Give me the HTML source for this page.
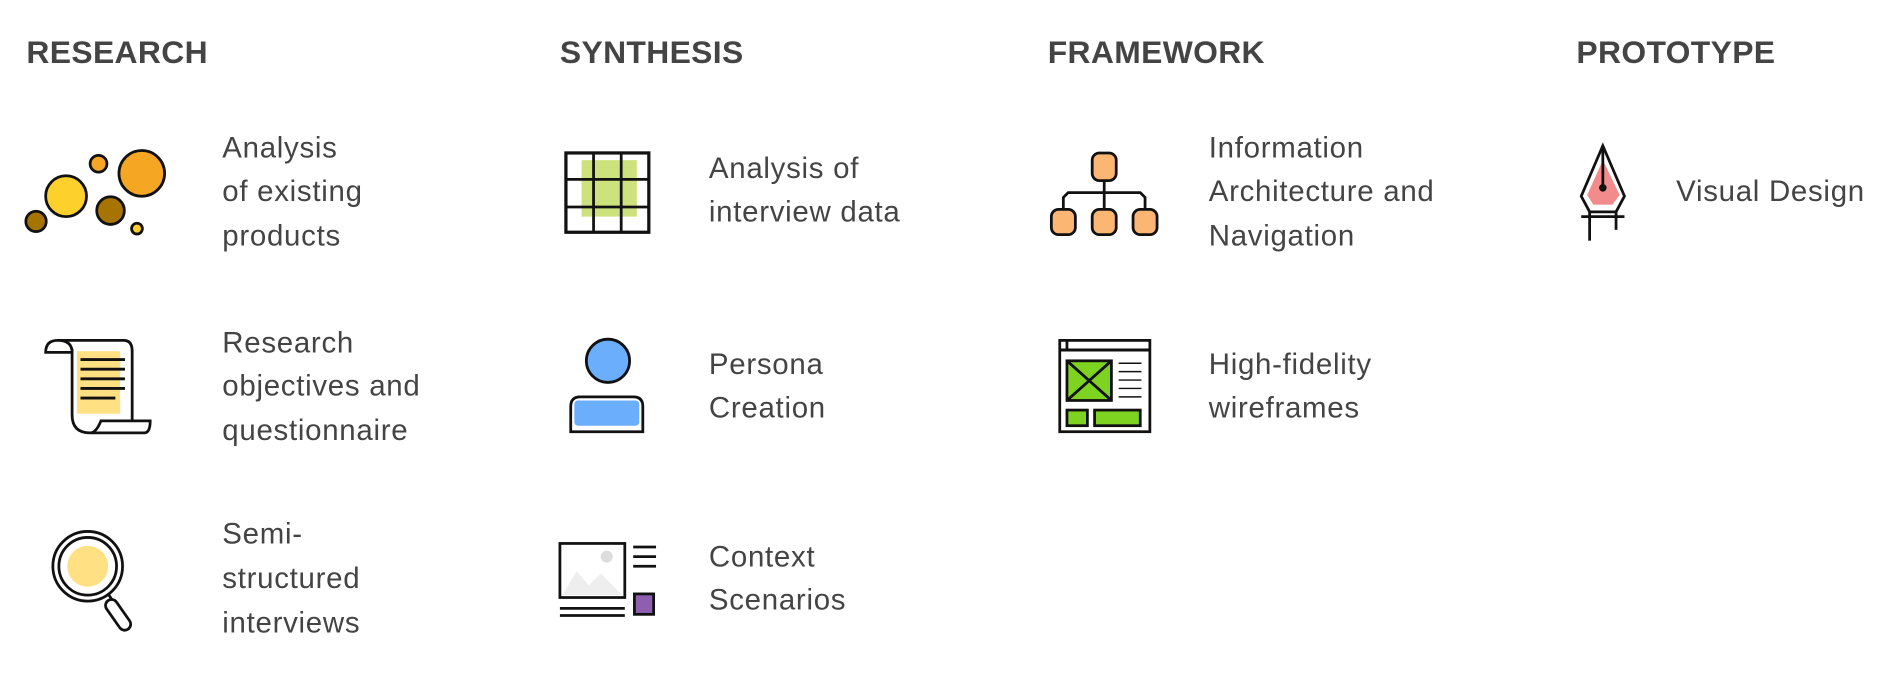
<!DOCTYPE html>
<html><head><meta charset="utf-8"><style>
html,body{margin:0;padding:0;background:#fff;width:1884px;height:700px;overflow:hidden}
svg{display:block}
.t{font-family:"Liberation Sans",sans-serif;font-weight:bold;font-size:26.5px;fill:#444;letter-spacing:0.3px}
.b{font-family:"Liberation Sans",sans-serif;font-size:24.5px;fill:#444;letter-spacing:0.6px}
</style></head><body>
<svg width="1884" height="700" viewBox="0 0 1568 582" xmlns="http://www.w3.org/2000/svg">
<g class="t">
<text x="22" y="52">RESEARCH</text>
<text x="466" y="52">SYNTHESIS</text>
<text x="872" y="52">FRAMEWORK</text>
<text x="1312" y="52">PROTOTYPE</text>
</g>
<g class="b">
<text x="185" y="131">Analysis</text><text x="185" y="167">of existing</text><text x="185" y="204">products</text>
<text x="185" y="293">Research</text><text x="185" y="329">objectives and</text><text x="185" y="366">questionnaire</text>
<text x="185" y="452">Semi-</text><text x="185" y="489">structured</text><text x="185" y="526">interviews</text>
<text x="590" y="148">Analysis of</text><text x="590" y="184">interview data</text>
<text x="590" y="311">Persona</text><text x="590" y="347">Creation</text>
<text x="590" y="471">Context</text><text x="590" y="507">Scenarios</text>
<text x="1006" y="131">Information</text><text x="1006" y="167">Architecture and</text><text x="1006" y="204">Navigation</text>
<text x="1006" y="311">High-fidelity</text><text x="1006" y="347">wireframes</text>
<text x="1395" y="167">Visual Design</text>
</g>
<g stroke="#111" stroke-width="2.3">
<circle cx="118" cy="144" r="19" fill="#f5a623"/>
<circle cx="82" cy="136" r="7" fill="#f5a623"/>
<circle cx="55" cy="163" r="17" fill="#fdd02b"/>
<circle cx="92" cy="175" r="11.5" fill="#a87400"/>
<circle cx="30" cy="184" r="8.5" fill="#a87400"/>
<circle cx="114" cy="190" r="4.5" fill="#fdd02b"/>
<rect x="64" y="292" width="36" height="52" fill="#ffe083" stroke="none"/>
<path d="M60 290 L60 345 Q60 360 75 360 L120 360 Q125 360 125 350 L84 350 Q80 360 75 360" fill="none"/>
<path d="M48 283 L103 283 Q110 283 110 292 L110 350" fill="none"/>
<path d="M48 283 Q38 283 38 293 L60 293 Q60 283 48 283" fill="#fff"/>
<g stroke-width="2.4"><line x1="67" y1="299" x2="104" y2="299"/><line x1="67" y1="307" x2="104" y2="307"/><line x1="67" y1="315" x2="104" y2="315"/><line x1="67" y1="323" x2="104" y2="323"/><line x1="67" y1="331" x2="96" y2="331"/></g>
<circle cx="73" cy="471" r="29" fill="#fff"/>
<circle cx="73" cy="471" r="24" fill="#fff"/>
<circle cx="73" cy="471" r="17" fill="#ffe083" stroke="none"/>
<line x1="90" y1="494" x2="94" y2="500"/>
<rect x="93" y="497" width="10" height="29" rx="5" transform="rotate(-35 98 511)" fill="#fff"/>
<rect x="484" y="133" width="46" height="47" fill="#cde27c" stroke="none"/>
<rect x="471" y="127" width="69" height="66" fill="none" stroke-width="2.7"/>
<line x1="494" y1="127" x2="494" y2="193"/><line x1="517" y1="127" x2="517" y2="193"/>
<line x1="471" y1="149" x2="540" y2="149"/><line x1="471" y1="172" x2="540" y2="172"/>
<circle cx="506" cy="300" r="18" fill="#6aaefc"/>
<path d="M475 359 L475 338 Q475 330 483 330 L527 330 Q535 330 535 338 L535 359 Z" fill="#fff"/>
<rect x="478" y="333" width="54" height="21" rx="3" fill="#6aaefc" stroke="none"/>
<rect x="466" y="452" width="54" height="45" fill="#fff"/>
<path d="M468 495 L480 475 L490 487 L500 477 L518 495 Z" fill="#eee" stroke="none"/>
<circle cx="505" cy="463" r="5" fill="#ddd" stroke="none"/>
<line x1="527" y1="455" x2="546" y2="455"/><line x1="527" y1="463" x2="546" y2="463"/><line x1="527" y1="471" x2="546" y2="471"/>
<rect x="528" y="494" width="16" height="17" fill="#8e5fb0"/>
<line x1="466" y1="506" x2="520" y2="506"/><line x1="466" y1="512" x2="520" y2="512"/>
<line x1="919" y1="150" x2="919" y2="174"/>
<path d="M885 174 L885 164 L889 160 L949 160 L953 164 L953 174" fill="none"/>
<rect x="909" y="127" width="20" height="23" rx="6" fill="#fbb673"/>
<rect x="875" y="174" width="20" height="21" rx="6" fill="#fbb673"/>
<rect x="909" y="174" width="20" height="21" rx="6" fill="#fbb673"/>
<rect x="943" y="174" width="20" height="21" rx="6" fill="#fbb673"/>
<rect x="882" y="283" width="75" height="76" fill="#fff"/>
<line x1="882" y1="291" x2="957" y2="291" stroke-width="2.5"/><line x1="888" y1="283" x2="888" y2="291"/>
<rect x="888" y="300" width="37" height="33" fill="#7ed321"/>
<line x1="888" y1="300" x2="925" y2="333"/><line x1="925" y1="300" x2="888" y2="333"/>
<g stroke-width="1.2"><line x1="931" y1="302" x2="950" y2="302"/><line x1="931" y1="309" x2="950" y2="309"/><line x1="931" y1="316" x2="950" y2="316"/><line x1="931" y1="323" x2="950" y2="323"/><line x1="931" y1="330" x2="950" y2="330"/></g>
<rect x="888" y="341" width="17" height="13" fill="#7ed321"/>
<rect x="911" y="341" width="38" height="13" fill="#7ed321"/>
<path d="M1334 121 L1352 163 L1345 176 L1323 176 L1316 163 Z" fill="#fff"/>
<path d="M1334 133 L1348 162 L1342 170 L1326 170 L1321 162 Z" fill="#f28b8b" stroke="none"/>
<line x1="1334" y1="121" x2="1334" y2="155"/><circle cx="1334" cy="156" r="2" fill="#111"/>
<line x1="1316" y1="180" x2="1352" y2="180"/>
<line x1="1323" y1="176" x2="1323" y2="200"/><line x1="1345" y1="176" x2="1345" y2="191"/>
</g>
</svg>
</body></html>
